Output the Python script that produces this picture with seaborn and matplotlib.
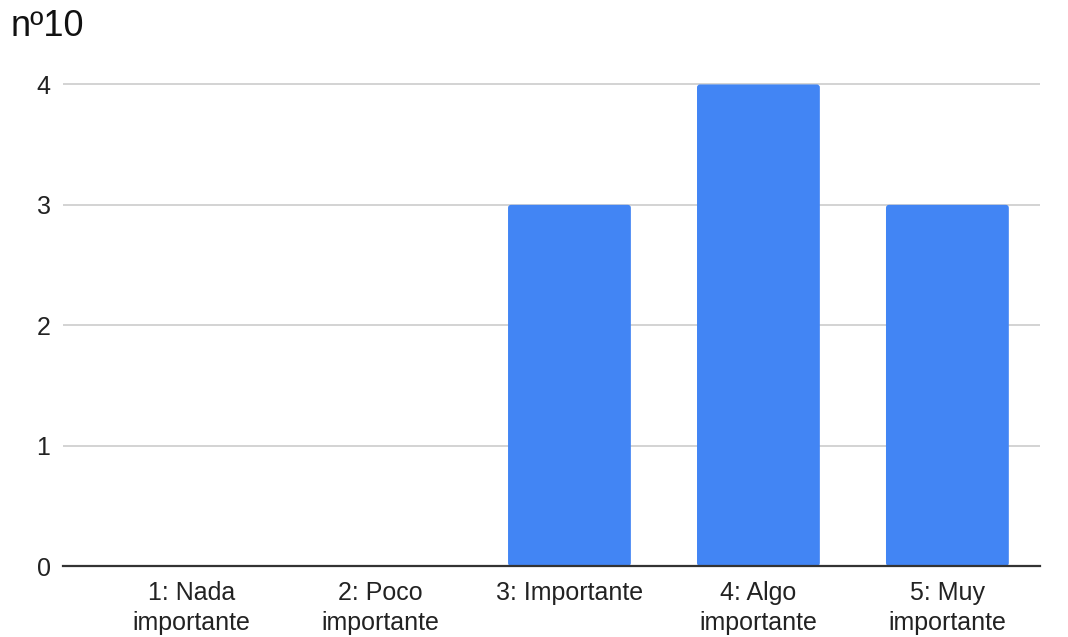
import matplotlib
matplotlib.use("Agg")
import matplotlib.pyplot as plt
from matplotlib.patches import FancyBboxPatch
import seaborn as sns
import pandas as pd

categories = ["1: Nada\nimportante", "2: Poco\nimportante", "3: Importante",
              "4: Algo\nimportante", "5: Muy\nimportante"]
counts = [0, 0, 3, 4, 3]
title = "nº10"

sns.set_style("white")
plt.rcParams["font.family"] = ["Liberation Sans", "DejaVu Sans"]

df = pd.DataFrame({"categoria": categories, "n": counts})

fig = plt.figure(figsize=(10.68, 6.37), dpi=100)
ax = fig.add_axes([63 / 1068, 1 - 566 / 637, (1040 - 63) / 1068, (566 - 70) / 637])

sns.barplot(data=df, x="categoria", y="n", color="#4285F4", saturation=1,
            width=0.65, ax=ax, zorder=3)

ax.set_xlim(-0.68, 4.49)
ax.set_ylim(0, 4.12)

# soften the bar corners slightly
x_px = 189.0
y_px = 120.5
r = 3.0 / x_px
for p in list(ax.patches):
    h = p.get_height()
    if h <= 0:
        p.remove()
        continue
    rounded = FancyBboxPatch((p.get_x(), p.get_y()), p.get_width(), h,
                             boxstyle=f"round,pad=0,rounding_size={r}",
                             mutation_aspect=x_px / y_px,
                             facecolor=p.get_facecolor(), edgecolor="none",
                             zorder=3)
    p.remove()
    ax.add_patch(rounded)

ax.set_yticks([0, 1, 2, 3, 4])
ax.yaxis.grid(True, color="#cccccc", linewidth=1.2, zorder=0)
ax.set_axisbelow(True)
for side in ["top", "right", "left"]:
    ax.spines[side].set_visible(False)
ax.spines["bottom"].set_color("#333333")
ax.spines["bottom"].set_linewidth(1.6)
ax.spines["bottom"].set_zorder(4)
ax.tick_params(axis="both", length=0, labelsize=18, colors="#222222")
ax.tick_params(axis="y", pad=9)
ax.tick_params(axis="x", pad=11)
for lbl in ax.get_xticklabels():
    lbl.set_linespacing(1.3)
ax.set_xlabel("")
ax.set_ylabel("")

fig.text(11 / 1068, 1 - 36 / 637, title, fontsize=26, color="#111111",
         ha="left", va="baseline")

fig.savefig("out.png", dpi=100, facecolor="white")
